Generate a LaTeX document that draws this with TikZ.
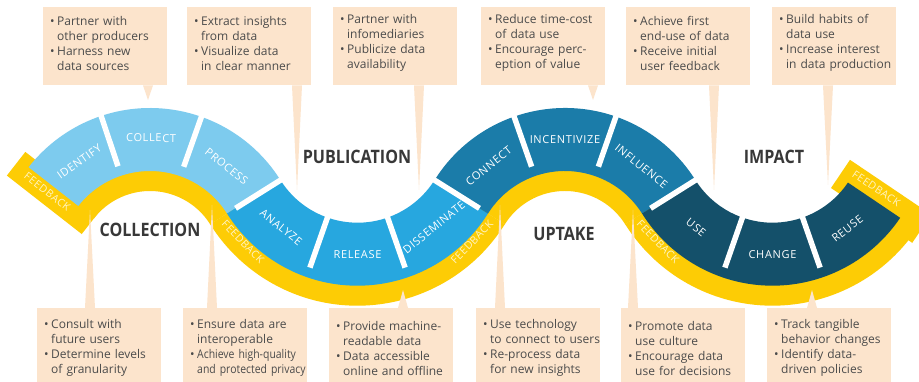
\documentclass[tikz,border=0pt]{standalone}
\usepackage{fontspec}
\setmainfont{Open Sans}
\newfontfamily\stagefont{Open Sans}[FakeStretch=0.87]
\newfontfamily\stepfont{Open Sans}[LetterSpace=6]
\usetikzlibrary{calc}

\definecolor{collectblue}{HTML}{7DCBEE}
\definecolor{publishblue}{HTML}{27A7DF}
\definecolor{uptakeblue}{HTML}{1B7CA9}
\definecolor{impactblue}{HTML}{14506A}
\definecolor{feedyellow}{HTML}{FDCC05}
\definecolor{feedtext}{HTML}{FFF4C4}
\definecolor{peach}{HTML}{FCE4CC}
\definecolor{boxtext}{HTML}{4B4B4B}
\definecolor{titlegray}{HTML}{383838}

% bullet line inside a callout
\newcommand{\bitem}[1]{\par\leftskip=14pt\noindent\llap{\textbullet\hspace{2.5pt}}#1}
\newcommand{\lift}[1]{\par\vspace*{#1}}
% ring piece: center, start angle, end angle, inner radius, outer radius, fill
\newcommand{\wavepiece}[6]{%
  \fill[#6] ($(#1)+(#2:#4)$) arc[start angle=#2, end angle=#3, radius=#4]
    -- ($(#1)+(#3:#5)$) arc[start angle=#3, end angle=#2, radius=#5] -- cycle;}

\begin{document}
\begin{tikzpicture}[x=1pt, y=1pt,
    callout/.style={fill=peach, text=boxtext, text width=124pt, inner xsep=0pt, inner ysep=0pt, align=left, anchor=north west, font=\fontsize{12}{15}\selectfont},
    topbox/.style={callout, minimum height=78pt},
    bottombox/.style={callout, minimum height=74pt},
    pointer/.style={fill=peach},
    stage/.style={font=\stagefont\bfseries\fontsize{18.5}{20}\selectfont, text=titlegray},
    steplabel/.style={font=\stepfont\fontsize{11}{12}\selectfont, text=white, inner sep=0pt},
    feedback/.style={font=\stepfont\fontsize{10.5}{12}\selectfont, text=feedtext, inner sep=0pt},
    gap/.style={white, line width=5.5pt}
]
\useasboundingbox (0,0) rectangle (919,382);
\fill[white] (0,0) rectangle (919,382);

% centres of the four bends
\coordinate (c1) at (150,120);
\coordinate (c2) at (357.5,250.3);
\coordinate (c3) at (565,120);
\coordinate (c4) at (772.5,250.3);

% callouts above
\node[topbox] (t1) at (43,375) {\bitem{Partner with\newline other producers}\bitem{Harness new\newline data sources}\lift{12pt}};
\node[topbox] (t2) at (187,375) {\bitem{Extract insights\newline from data}\bitem{Visualize data\newline in clear manner}\lift{12pt}};
\node[topbox] (t3) at (333,375) {\bitem{Partner with\newline infomediaries}\bitem{Publicize data\newline availability}\lift{12pt}};
\node[topbox] (t4) at (481,375) {\bitem{Reduce time-cost\newline of data use}\bitem{Encourage perc-\newline eption of value}\lift{12pt}};
\node[topbox] (t5) at (626,375) {\bitem{Achieve first\newline end-use of data}\bitem{Receive initial\newline user feedback}\lift{12pt}};
\node[topbox] (t6) at (772,375) {\bitem{Build habits of\newline data use}\bitem{Increase interest\newline in data production}\lift{12pt}};

% callouts below
\node[bottombox] (b1) at (37,74) {\bitem{Consult with\newline future users}\bitem{Determine levels\newline of granularity}\lift{0pt}};
\node[bottombox] (b2) at (183,74) {\bitem{Ensure data are\newline interoperable}\bitem{{\addfontfeature{FakeStretch=0.87}Achieve high-quality\newline and protected privacy}}\lift{0pt}};
\node[bottombox] (b3) at (329,74) {\bitem{Provide machine-\newline readable data}\bitem{Data accessible\newline online and offline}\lift{0pt}};
\node[bottombox] (b4) at (476,74) {\bitem{Use technology\newline to connect to users}\bitem{Re-process data\newline for new insights}\lift{0pt}};
\node[bottombox] (b5) at (621,74) {\bitem{Promote data\newline use culture}\bitem{Encourage data\newline use for decisions}\lift{0pt}};
\node[bottombox] (b6) at (767,74) {\bitem{Track tangible\newline behavior changes}\bitem{Identify data-\newline driven policies}\lift{0pt}};

% feedback band
\wavepiece{c1}{32.1}{142}{71}{101}{feedyellow}
\wavepiece{c2}{212.1}{327.9}{144}{174}{feedyellow}
\wavepiece{c3}{32.1}{147.9}{71}{101}{feedyellow}
\wavepiece{c4}{212.1}{326}{144}{174}{feedyellow}
\begin{scope}[shift={(c1)}, rotate=142]
  \fill[feedyellow] (71,-10) rectangle (166,20);
\end{scope}
\begin{scope}[shift={(c4)}, rotate=326]
  \fill[feedyellow] (80,-14) rectangle (178,20);
\end{scope}

% pointer tips
\coordinate (p1) at (148,282);
\coordinate (p2) at (297,192);
\coordinate (p3) at (419,192);
\coordinate (p4) at (593,282);
\coordinate (p5) at (714,192);
\coordinate (p6) at (828,197);
\coordinate (q1) at (90,172);
\coordinate (q2) at (212,177);
\coordinate (q3) at (403,92);
\coordinate (q4) at (500,177);
\coordinate (q5) at (633,172);
\coordinate (q6) at (812,92);

% pointers
\fill[pointer] ($(t1.south -| p1)+(-5,0)$) -- ($(t1.south -| p1)+(5,0)$) -- (p1) -- cycle;
\fill[pointer] ($(t2.south -| p2)+(-5,0)$) -- ($(t2.south -| p2)+(5,0)$) -- (p2) -- cycle;
\fill[pointer] ($(t3.south -| p3)+(-5,0)$) -- ($(t3.south -| p3)+(5,0)$) -- (p3) -- cycle;
\fill[pointer] ($(t4.south -| p4)+(-5,0)$) -- ($(t4.south -| p4)+(5,0)$) -- (p4) -- cycle;
\fill[pointer] ($(t5.south -| p5)+(-5,0)$) -- ($(t5.south -| p5)+(5,0)$) -- (p5) -- cycle;
\fill[pointer] ($(t6.south -| p6)+(-5,0)$) -- ($(t6.south -| p6)+(5,0)$) -- (p6) -- cycle;
\fill[pointer] ($(b1.north -| q1)+(-5,0)$) -- ($(b1.north -| q1)+(5,0)$) -- (q1) -- cycle;
\fill[pointer] ($(b2.north -| q2)+(-5,0)$) -- ($(b2.north -| q2)+(5,0)$) -- (q2) -- cycle;
\fill[pointer] ($(b3.north -| q3)+(-5,0)$) -- ($(b3.north -| q3)+(5,0)$) -- (q3) -- cycle;
\fill[pointer] ($(b4.north -| q4)+(-5,0)$) -- ($(b4.north -| q4)+(5,0)$) -- (q4) -- cycle;
\fill[pointer] ($(b5.north -| q5)+(-5,0)$) -- ($(b5.north -| q5)+(5,0)$) -- (q5) -- cycle;
\fill[pointer] ($(b6.north -| q6)+(-5,0)$) -- ($(b6.north -| q6)+(5,0)$) -- (q6) -- cycle;

% steps of the wave
\wavepiece{c1}{32.1}{142}{91}{154}{collectblue}
\wavepiece{c2}{212.1}{327.9}{91}{154}{publishblue}
\wavepiece{c3}{32.1}{147.9}{91}{154}{uptakeblue}
\wavepiece{c4}{212.1}{326}{91}{154}{impactblue}

% white gaps between steps
\foreach \a in {108.5,70.5,32.1} \draw[gap] ($(c1)+(\a:101)$) -- ($(c1)+(\a:158)$);
\foreach \a in {147.9,109.3,70.7,32.1} \draw[gap] ($(c3)+(\a:101)$) -- ($(c3)+(\a:158)$);
\foreach \a in {250.7,289.3} {
  \draw[gap] ($(c2)+(\a:87)$) -- ($(c2)+(\a:144)$);
  \draw[gap] ($(c4)+(\a:87)$) -- ($(c4)+(\a:144)$);
}

% step names
\node[steplabel, rotate=35.25] (identify) at ($(c1)+(125.25:122.5)$) {IDENTIFY};
\node[steplabel, rotate=-0.5] (collect) at ($(c1)+(89.5:124)$) {COLLECT};
\node[steplabel, rotate=-38.7] (process) at ($(c1)+(51.3:122.5)$) {PROCESS};
\node[steplabel, rotate=-38.6] (analyze) at ($(c2)+(231.4:122.5)$) {ANALYZE};
\node[steplabel] (release) at ($(c2)+(270:122.5)$) {RELEASE};
\node[steplabel, rotate=38.6] (disseminate) at ($(c2)+(308.6:122.5)$) {DISSEMINATE};
\node[steplabel, rotate=38.6] (connect) at ($(c3)+(128.6:122.5)$) {CONNECT};
\node[steplabel] (incentivize) at ($(c3)+(90:122.5)$) {INCENTIVIZE};
\node[steplabel, rotate=-38.6] (influence) at ($(c3)+(51.4:122.5)$) {INFLUENCE};
\node[steplabel, rotate=-38.6] (use) at ($(c4)+(231.4:122.5)$) {USE};
\node[steplabel] (change) at ($(c4)+(270:122.5)$) {CHANGE};
\node[steplabel, rotate=37.65] (reuse) at ($(c4)+(307.65:122.5)$) {REUSE};

% feedback marks
\node[feedback, rotate=322] (fb0) at ($(c1)+(142:124)+(232:8)$) {FEEDBACK};
\node[feedback, rotate=314] (fb1) at ($(c2)+(224:159)$) {FEEDBACK};
\node[feedback, rotate=46] (fb2) at ($(c2)+(316:159)$) {FEEDBACK};
\node[feedback, rotate=314] (fb3) at ($(c4)+(224:159)$) {FEEDBACK};
\node[feedback, rotate=326] (fb4) at ($(c4)+(326:118)+(56:11)$) {FEEDBACK};

% stage names
\node[stage] (collection) at (150,152) {COLLECTION};
\node[stage] (publication) at (357,225) {PUBLICATION};
\node[stage] (uptake) at (564,148) {UPTAKE};
\node[stage] (impact) at (774,225) {IMPACT};

\end{tikzpicture}
\end{document}
